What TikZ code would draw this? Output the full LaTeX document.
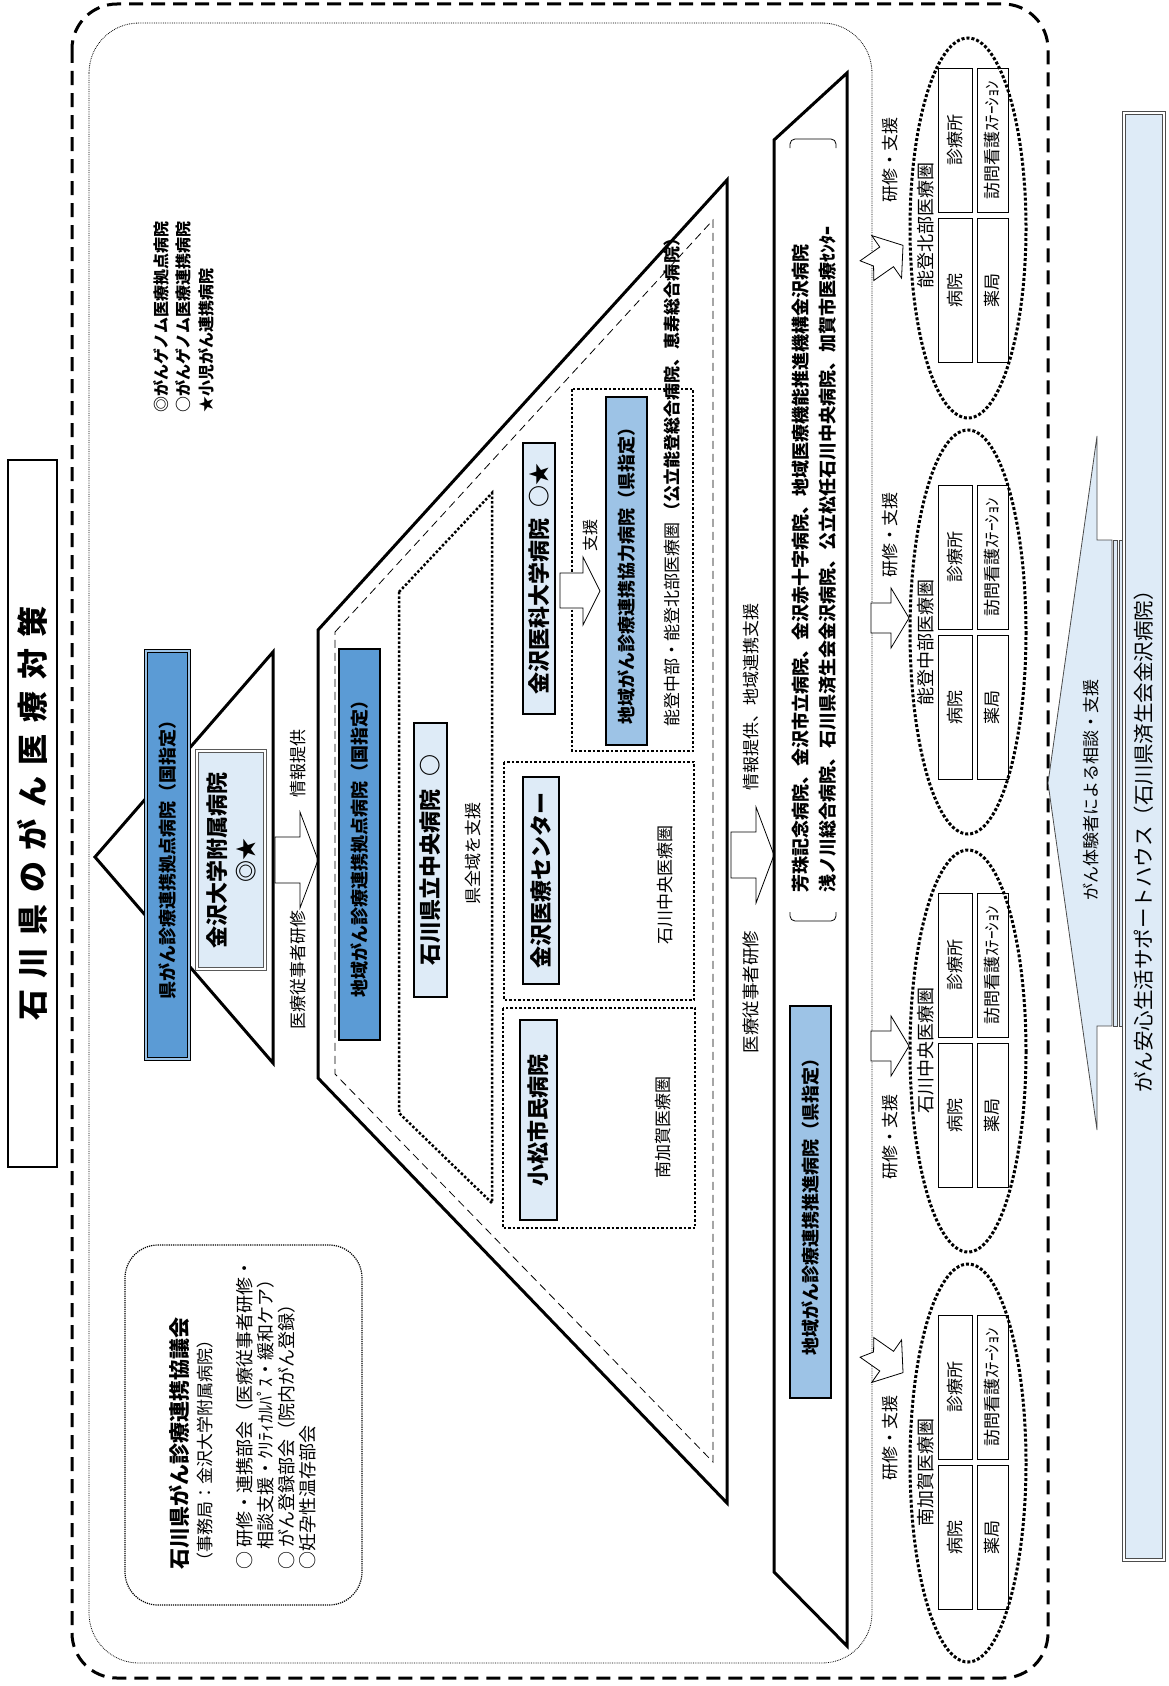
\documentclass[tikz,border=0pt]{standalone}
\usepackage{fontspec}
\setmainfont{Noto Sans CJK JP}
\usetikzlibrary{positioning}

\begin{document}
\begin{tikzpicture}[x=1pt, y=-1pt,
    txt/.style={rotate=90, inner sep=0pt, font=\fontsize{17}{20}\selectfont},
    hosp/.style={rotate=90, draw, line width=2.2pt, fill=my-pale, inner sep=0pt,
      font=\fontsize{22}{24}\selectfont\bfseries},
    desig/.style={rotate=90, draw, line width=2.5pt, inner sep=0pt,
      font=\fontsize{18}{20}\selectfont\bfseries},
    cell/.style={rotate=90, draw, line width=0.8pt, inner sep=0pt, minimum width=144pt,
      font=\fontsize{17}{20}\selectfont},
    zone/.style={dotted, line width=2.5pt},
    blockarrow/.style={draw, line width=0.8pt, fill=white}]
    \definecolor{my-blue}{RGB}{91,155,213}
    \definecolor{my-sky}{RGB}{157,195,230}
    \definecolor{my-pale}{RGB}{222,235,247}
    \useasboundingbox (0,0) rectangle (1168,1686);

    \draw[line width=3pt, dash pattern=on 14pt off 8pt, rounded corners=45pt] (72,4) rectangle (1048,1678);
    \draw[line width=0.8pt, densely dotted, rounded corners=50pt] (89,23) rectangle (872,1663);

    \node[draw, line width=1.2pt, rotate=90, minimum width=707pt, minimum height=49pt, inner sep=0pt,
      font=\fontsize{31}{34}\selectfont\bfseries] (title) at (32.5,813.5)
      {\spaceskip=11.6pt 石 川 県 の が ん 医 療 対 策};

    \node[txt, anchor=west, font=\fontsize{16}{20}\selectfont\bfseries] (leg1) at (161,413) {◎がんゲノム医療拠点病院};
    \node[txt, anchor=west, font=\fontsize{16}{20}\selectfont\bfseries] (leg2) at (183,413) {○がんゲノム医療連携病院};
    \node[txt, anchor=west, font=\fontsize{16}{20}\selectfont\bfseries] (leg3) at (206,413) {★小児がん連携病院};

    % prefecture level
    \draw[line width=3pt] (95,857) -- (273,652) -- (273,1063) -- cycle;
    \node[desig, fill=my-blue, double=my-sky, double distance=1.2pt, line width=1pt,
      minimum width=408pt, minimum height=43pt] (kenkyoten) at (167.5,855) {県がん診療連携拠点病院（国指定）};
    \node[hosp, draw=gray!70!black, line width=1.2pt, double=white, double distance=2pt,
      minimum width=218pt, minimum height=68pt, align=center,
      font=\fontsize{22}{29}\selectfont\bfseries] (kanadai) at (231,860) {金沢大学附属病院\\◎★};

    \draw[blockarrow] (275,837) -- (300,837) -- (300,812) -- (318,860) -- (300,908) -- (300,883) -- (275,883) -- cycle;
    \node[txt] (info1) at (298,763) {情報提供};
    \node[txt] (train1) at (298,970) {医療従事者研修};

    % regional level
    \draw[line width=3pt] (318,630) -- (727,180) -- (727,1503) -- (318,1078) -- cycle;
    \draw[line width=0.8pt, dash pattern=on 8pt off 5pt] (335,632) -- (713,220) -- (713,1462) -- (335,1074) -- cycle;
    \draw[zone] (399,592) -- (492,493) -- (492,1203) -- (399,1113) -- cycle;
    \node[desig, fill=my-blue, minimum width=391pt, minimum height=41pt] (chiikikyoten) at (359.5,844.5)
      {地域がん診療連携拠点病院（国指定）};
    \node[hosp, minimum width=274pt, minimum height=33pt] (kenchuo) at (430.5,860) {石川県立中央病院\hspace{0.6em}○};
    \node[txt] (zeniki) at (473,853) {県全域を支援};

    \draw[zone] (572,389) rectangle (693,751);
    \draw[zone] (504,762) rectangle (694,1000);
    \draw[zone] (503,1008) rectangle (695,1228);

    \node[hosp, minimum width=271pt, minimum height=32pt] (ikadai) at (539,578.5) {金沢医科大学病院\hspace{0.5em}○★};
    \node[desig, fill=my-sky, minimum width=348pt, minimum height=41pt] (kyoryoku) at (626.5,571)
      {地域がん診療連携協力病院（県指定）};
    \node[txt, anchor=west, font=\fontsize{17}{20}\selectfont] (noto) at (672,727)
      {能登中部・能登北部医療圏 \textbf{（公立能登総合病院、恵寿総合病院）}};
    \draw[blockarrow] (560,573) -- (583,573) -- (583,557) -- (600,591) -- (583,625) -- (583,608) -- (560,608) -- cycle;
    \node[txt, font=\fontsize{16}{20}\selectfont] (shien) at (590,535) {支援};

    \node[hosp, minimum width=207pt, minimum height=36pt] (kanazawamc) at (541,880.5) {金沢医療センター};
    \node[txt] (chuo) at (665,885) {石川中央医療圏};
    \node[hosp, minimum width=200pt, minimum height=37pt] (komatsu) at (538.5,1120) {小松市民病院};
    \node[txt] (minamikaga) at (663,1127) {南加賀医療圏};

    \draw[blockarrow] (731,832) -- (756,832) -- (756,807) -- (774,855) -- (756,903) -- (756,878) -- (731,878) -- cycle;
    \node[txt] (info2) at (751,697) {情報提供、地域連携支援};
    \node[txt, font=\fontsize{17.5}{20}\selectfont] (train2) at (751,992) {医療従事者研修};

    % promotion hospitals
    \draw[line width=3pt] (774,140) -- (847,73) -- (847,1646) -- (774,1572) -- cycle;
    \draw[line width=0.8pt, rounded corners=5pt] (790,148) -- (790,139) -- (836,139) -- (836,148);
    \draw[line width=0.8pt, rounded corners=5pt] (790,912) -- (790,921) -- (836,921) -- (836,912);
    \node[txt, anchor=west, font=\fontsize{18}{20}\selectfont\bfseries] (list1) at (801,893)
      {芳珠記念病院、金沢市立病院、金沢赤十字病院、地域医療機能推進機構金沢病院};
    \node[txt, anchor=west, font=\fontsize{18}{20}\selectfont\bfseries] (list2) at (828,893)
      {浅ノ川総合病院、石川県済生会金沢病院、公立松任石川中央病院、加賀市医療ｾﾝﾀｰ};
    \node[desig, fill=my-sky, minimum width=392pt, minimum height=41pt] (suishin) at (810.5,1202)
      {地域がん診療連携推進病院（県指定）};

    % medical areas
    \foreach \cy/\ry/\tc/\area [count=\i] in {228/190/215/能登北部医療圏, 632/202/632/能登中部医療圏,
        1051/201/1040/石川中央医療圏, 1463/199/1462/南加賀医療圏} {
      \draw[zone, line width=3pt] (968,\cy) ellipse [x radius=58, y radius=\ry];
      \node[txt, font=\fontsize{18}{20}\selectfont] (area-\i) at (926,\tc+10) {\area};
      \node[cell, minimum height=34pt] (byoin-\i) at (955,\tc+75) {病院};
      \node[cell, minimum height=34pt] (shinryo-\i) at (955,\tc-75) {診療所};
      \node[cell, minimum height=31pt] (yakkyoku-\i) at (992.5,\tc+75) {薬局};
      \node[cell, minimum height=31pt] (houmon-\i) at (992.5,\tc-75) {訪問看護ｽﾃｰｼｮﾝ};
    }
    \foreach \ly [count=\i] in {160,535,1137,1438}
      \node[txt] (kenshu-\i) at (890,\ly) {研修・支援};
    \draw[blockarrow] (871,603) -- (891,603) -- (891,588) -- (909,618) -- (891,648) -- (891,633) -- (871,633) -- cycle;
    \draw[blockarrow] (871,1031) -- (891,1031) -- (891,1016) -- (909,1046) -- (891,1076) -- (891,1061) -- (871,1061) -- cycle;
    \begin{scope}[shift={(885,258)}, rotate=35]
      \draw[blockarrow] (-22,-12) -- (2,-12) -- (2,-26) -- (22,0) -- (2,26) -- (2,12) -- (-22,12) -- (-14,0) -- cycle;
    \end{scope}
    \begin{scope}[shift={(885,1360)}, rotate=-35]
      \draw[blockarrow] (-22,-12) -- (2,-12) -- (2,-26) -- (22,0) -- (2,26) -- (2,12) -- (-22,12) -- (-14,0) -- cycle;
    \end{scope}

    % support house
    \draw[draw=gray!60!black, line width=0.8pt, fill=my-pale] (1112,540) -- (1097,540) -- (1097,436) -- (1048,783)
      -- (1097,1130) -- (1097,1026) -- (1112,1026) -- cycle;
    \draw[draw=gray!60!black, line width=0.8pt, fill=my-pale] (1113,540) rectangle (1117,1026);
    \draw[draw=gray!60!black, line width=0.8pt, fill=my-pale] (1119,540) rectangle (1123,1026);
    \node[txt, font=\fontsize{17}{18}\selectfont] (taiken) at (1091,790) {がん体験者による相談・支援};
    \node[rotate=90, draw=gray!60!black, line width=1pt, double=white, double distance=1.5pt, fill=my-pale,
      minimum width=1447pt, minimum height=40pt, inner sep=0pt, font=\fontsize{20.5}{22}\selectfont] (house)
      at (1144,836.5) {がん安心生活サポートハウス（石川県済生会金沢病院）};

    % council
    \draw[line width=1.2pt, densely dotted, rounded corners=33pt] (125,1245) rectangle (362,1605);
    \node[txt, anchor=west, font=\fontsize{21}{24}\selectfont\bfseries] (council) at (179,1570) {石川県がん診療連携協議会};
    \node[txt, anchor=west] (office) at (205,1570) {（事務局：金沢大学附属病院）};
    \node[txt, anchor=west, font=\fontsize{18}{20}\selectfont] (bukai1) at (245,1570) {○ 研修・連携部会（医療従事者研修・};
    \node[txt, anchor=west, font=\fontsize{18}{20}\selectfont] (bukai1b) at (266,1550) {相談支援・ｸﾘﾃｨｶﾙﾊﾟｽ・緩和ケア）};
    \node[txt, anchor=west, font=\fontsize{18}{20}\selectfont] (bukai2) at (287,1570) {○ がん登録部会（院内がん登録）};
    \node[txt, anchor=west, font=\fontsize{18}{20}\selectfont] (bukai3) at (308,1570) {○妊孕性温存部会};
\end{tikzpicture}
\end{document}
